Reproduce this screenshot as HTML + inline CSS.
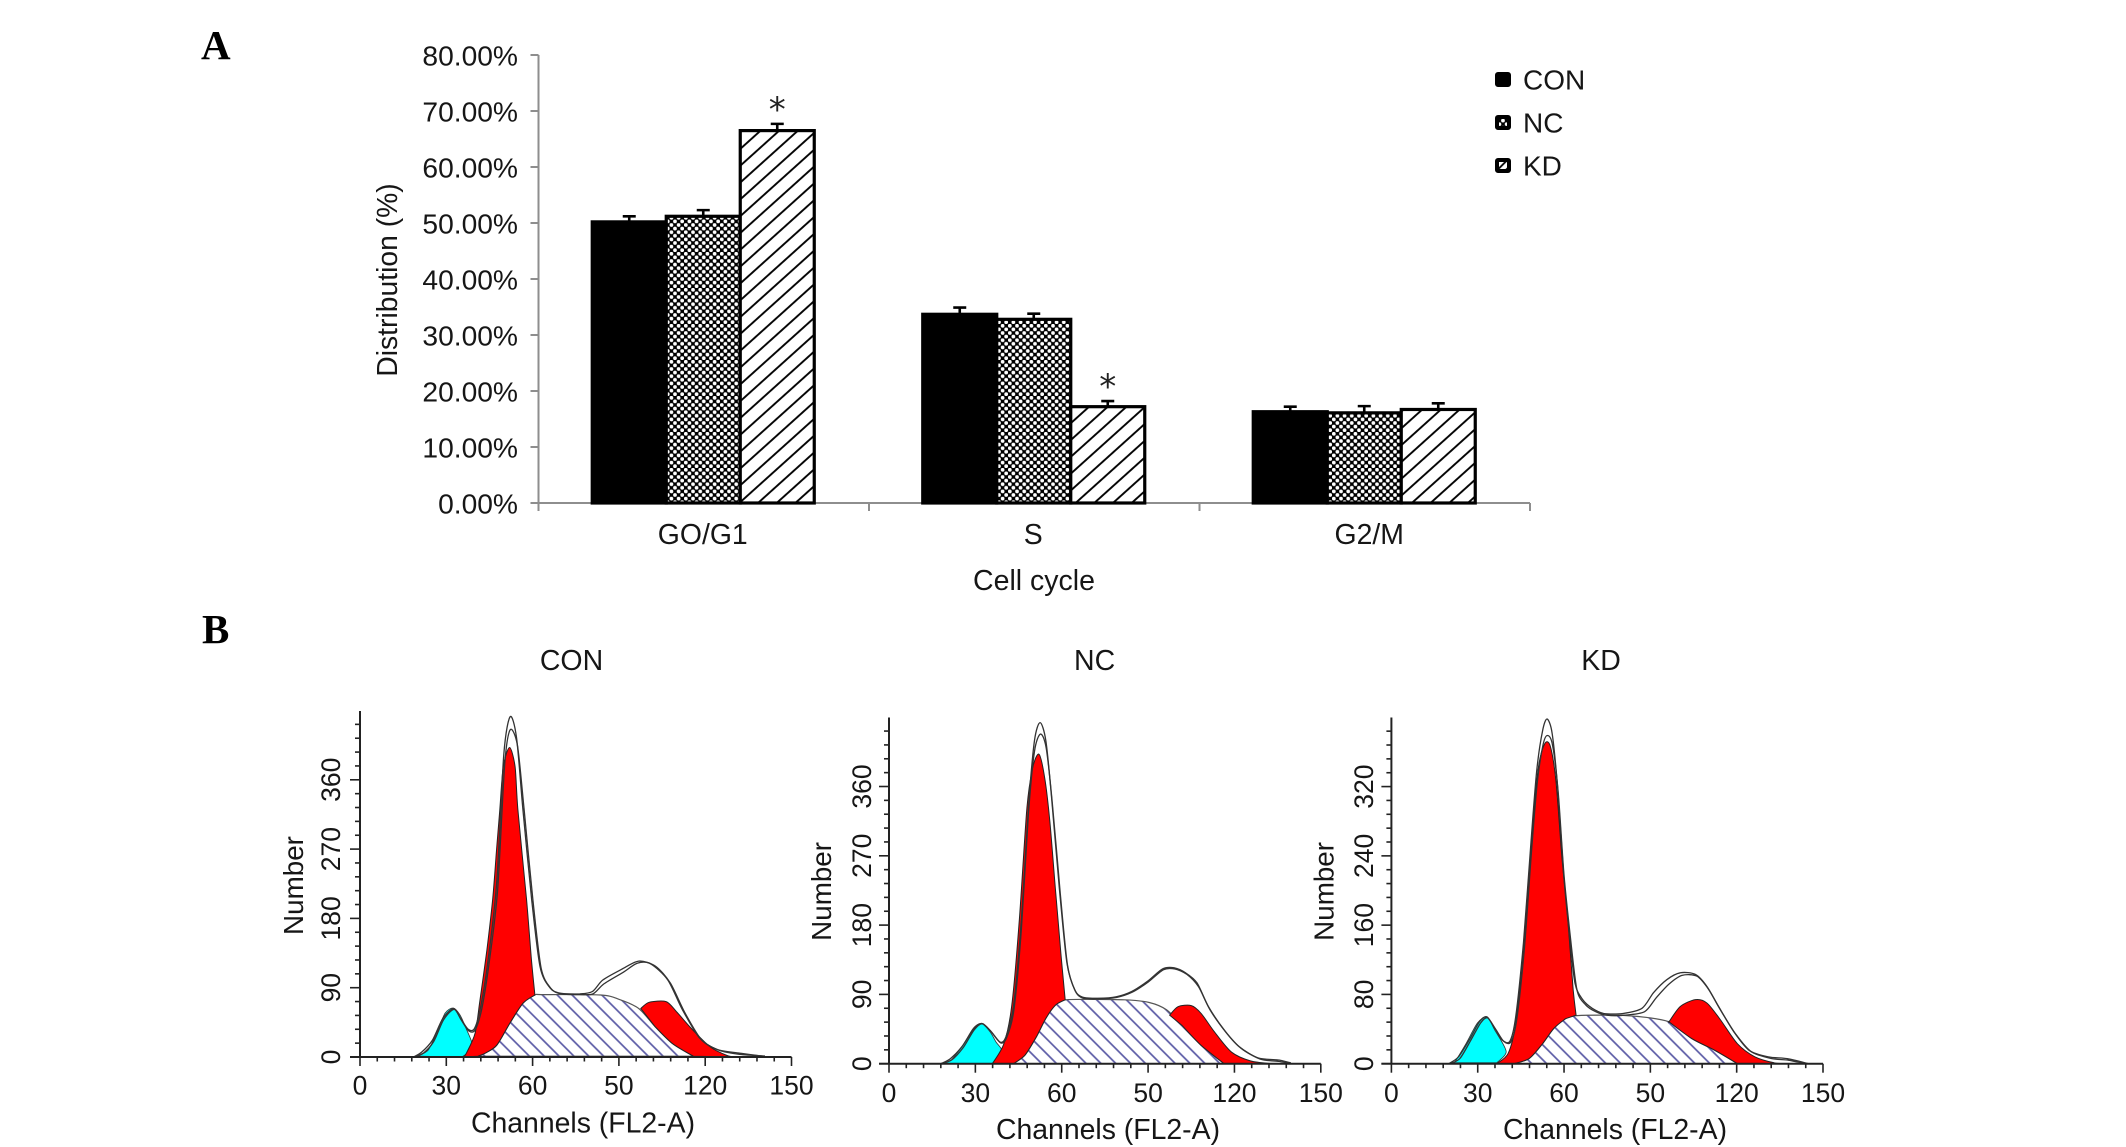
<!DOCTYPE html>
<html lang="en">
<head>
<meta charset="utf-8">
<title>Cell cycle distribution</title>
<style>
html,body{margin:0;padding:0;background:#fff;}
svg{display:block;}
text{font-family:"Liberation Sans",Arial,sans-serif;fill:#161616;}
.panel-letter{font-family:"Liberation Serif","Times New Roman",serif;font-weight:bold;font-size:41px;fill:#000;}
</style>
</head>
<body>
<svg id="root" xmlns="http://www.w3.org/2000/svg" width="2126" height="1147" viewBox="0 0 2126 1147">
  <defs>
    <pattern id="cross" patternUnits="userSpaceOnUse" width="7.2" height="7.2">
      <rect width="7.2" height="7.2" fill="#000"/>
      <circle cx="1.8" cy="1.8" r="1.9" fill="#fff"/>
      <circle cx="5.4" cy="5.4" r="1.9" fill="#fff"/>
    </pattern>
    <pattern id="slash" patternUnits="userSpaceOnUse" width="12.5" height="12.5" patternTransform="rotate(-42)">
      <rect width="12.5" height="12.5" fill="#fff"/>
      <line x1="0" y1="6" x2="12.5" y2="6" stroke="#000" stroke-width="1.9"/>
    </pattern>
    <pattern id="slash-small" patternUnits="userSpaceOnUse" width="6" height="6" patternTransform="rotate(-45)">
      <rect width="6" height="6" fill="#fff"/>
      <line x1="0" y1="3" x2="6" y2="3" stroke="#000" stroke-width="1.8"/>
    </pattern>
    <pattern id="s-hatch" patternUnits="userSpaceOnUse" width="10.5" height="10.5" patternTransform="rotate(45)">
      <rect width="10.5" height="10.5" fill="#fff"/>
      <line x1="0" y1="5" x2="10.5" y2="5" stroke="#5a5aa5" stroke-width="1.7"/>
    </pattern>
  </defs>
  <text class="panel-letter" x="201" y="59">A</text>
  <text class="panel-letter" x="202" y="643">B</text>
  <g id="bar-chart"></g>
  <g id="hist-con"></g>
  <g id="hist-nc"></g>
  <g id="hist-kd"></g>
</svg>
<script>
/* ---------- Panel A data ---------- */
const barCategories = ["GO/G1", "S", "G2/M"];
const barGroups = ["CON", "NC", "KD"];
const conValues = [50.2, 33.7, 16.3];
const ncValues = [51.2, 32.8, 16.1];
const kdValues = [66.5, 17.2, 16.7];
const conErrors = [1.0, 1.2, 0.9];
const ncErrors = [1.1, 1.0, 1.2];
const kdErrors = [1.2, 1.0, 1.1];
const starFlags = [[false, false, true], [false, false, true], [false, false, false]];
const barTicks = [0, 10, 20, 30, 40, 50, 60, 70, 80];

/* ---------- Panel B data: [channel, count] ---------- */
const histXTicks = [0, 30, 60, 90, 120, 150];
const histXTickLabels = ["0", "30", "60", "50", "120", "150"];
const conYTicks = [0, 90, 180, 270, 360];
const ncYTicks = [0, 90, 180, 270, 360];
const kdYTicks = [0, 80, 160, 240, 320];

const conCyan = [[20,1],[23.7,9],[26.6,31],[29.6,57],[32.4,63.6],[34.7,55],[36.9,37],[39.1,15],[36.9,4],[35.4,0]];
const conG1 = [[36,0],[37,5],[40,31],[41.7,74],[44.1,139],[46.1,204],[47.5,270],[48.6,321],[49.8,377],[52,402],[53.9,377],[54.9,321],[57.9,204],[59.5,130],[60.8,80.5]];
const conS = [[41,1],[44,6],[47.6,15.6],[52.1,44],[56.7,70],[60.8,80.5],[63.6,81],[83.7,80.5],[90,75],[96.9,63],[102.7,39],[108.6,17.5],[115.9,1]];
const conG2 = [[97.6,63],[100.5,71],[106.4,72],[110,59],[115.2,37],[121.8,13],[127.6,2],[130.5,0]];
const conLineA = [[18.6,0],[21.5,6.5],[25.2,22],[28.8,50],[32.5,63],[35,50],[37.6,36],[39.8,37],[42,66],[44.5,125],[47.5,225],[50,393],[52.2,442],[54.4,415],[56.6,323],[59.7,204],[62.6,117],[66,90],[69.5,83],[76.4,82],[80.8,85],[84.4,100],[91,114],[96.9,124.5],[102.7,118],[107.9,96],[113,57],[118.8,22],[124.7,9],[132,3.5],[140.8,1.3]];
const conLineB = [[18.6,0],[22,5],[25.6,20],[29,48],[32.7,62],[35.2,48],[37.8,34],[40,35],[42.3,62],[44.8,120],[47.8,215],[50.3,380],[52.2,425],[54.7,405],[57,323],[60.1,204],[63,115],[66.4,89],[69.8,82],[76.4,81],[81,82],[84.8,95],[91.5,110],[96.5,122],[101,121],[107,100],[112,62],[118,25],[124,10],[132,5],[140,1]];

const ncCyan = [[18,0],[21.3,4],[25.3,22],[29.3,46],[32.2,52],[35.2,41],[37.2,28],[39.2,17],[37.2,4],[35.9,0]];
const ncG1 = [[35.9,0],[39.9,26],[42.6,74],[45.2,183],[47.9,332],[49.9,384],[52.1,402],[54.1,371],[55.9,314],[57.8,227],[59.8,140],[61.2,83]];
const ncS = [[43.2,0],[47.2,11],[51.2,35],[54.5,59],[57.8,76],[61.2,83],[81.8,83],[90.4,79.5],[96.4,70],[101.7,50],[108.4,24],[116.4,0]];
const ncG2 = [[97.5,63],[100.4,74],[105,75.5],[108.4,65.5],[113,41.5],[119,15],[125.7,3.5],[133,0]];
const ncLineA = [[18,0],[21.3,6.5],[25.3,22],[29.3,44.5],[32.2,52.4],[35.2,43],[38.6,28],[40.6,35],[43.2,74],[45.9,183],[48.5,336],[50.5,419],[52.5,443],[54.5,419],[56.5,345],[59.2,227],[61.8,131],[64.5,96],[67.2,86.5],[72.5,85],[79,87],[84.4,94],[89.8,107],[95,123],[99,124.5],[103,118],[107,105],[111,74],[116.4,44],[121.7,22],[128.3,7.4],[135,5],[139.6,1]];
const ncLineB = [[18,0],[21.8,5],[25.8,21],[29.6,44],[32.4,52],[35.4,42],[38.8,27],[40.9,34],[43.4,70],[46,175],[48.4,322],[50.5,405],[52.6,428],[54.6,410],[56.7,340],[59.4,225],[62,128],[64.8,94],[67.5,85],[72.5,84],[79,86],[84.6,93],[90,106],[95.3,122],[99.3,123],[103.5,116],[107.5,100],[111.5,70],[117,41],[122.3,20],[129,6],[135.5,3],[139,0.5]];

const kdCyan = [[21.9,1],[25.9,23],[29.9,47],[33.2,54],[35.9,39],[39.9,14],[36.6,1]];
const kdG1 = [[36.6,0],[40.6,12],[43.2,47],[45.9,136],[48.5,252],[50.9,338],[53.2,369],[55.2,367],[57.2,326],[59.2,241],[61.2,171],[63.2,85],[64.2,56]];
const kdS = [[42.6,0],[47.9,6],[52.5,23],[56.5,41],[60.5,52],[64.5,55.5],[81.8,55.5],[96.4,48.5],[104.4,29],[112.4,15.5],[120.3,0]];
const kdG2 = [[96.4,48],[100.4,66],[105.7,74],[109.7,70],[114.4,50.5],[120.3,23],[126.3,8],[133,1],[136.3,0]];
const kdLineA = [[19.9,0],[23.3,7.8],[27.3,29],[30.6,48.5],[33.2,54],[35.9,41],[38.6,27],[41.2,26],[43.2,54],[45.9,140],[48.5,256],[50.5,338],[52.5,384],[54.1,398],[55.9,381],[57.8,318],[59.8,221],[61.8,151],[63.8,93],[66.5,74],[69.8,64],[73.8,58],[80.5,58],[87.1,64],[91.1,82],[95.7,97],[100.4,105],[105.7,103],[109.7,89],[113.7,66],[119,37],[124.3,15.5],[131,7.8],[137.6,5.8],[145,0]];
const kdLineB = [[20.3,0],[23.8,6],[27.6,27],[31,47],[33.4,53],[36.2,40],[39,26],[41.5,25],[43.5,50],[46.2,132],[48.7,245],[50.7,325],[52.7,368],[54.2,379],[56,368],[58,312],[60,218],[62.2,146],[64.5,85],[67.5,68],[71,60],[75,56],[81,56],[88,60],[92,76],[96.5,92],[101,102],[106.2,101],[110.2,86],[114.2,63],[119.5,35],[125,14],[132,6],[138,4],[144,0]];

/* ---------- helpers ---------- */
const NS = "http://www.w3.org/2000/svg";
function mk(parent, tag, attrs, txt) {
  const el = document.createElementNS(NS, tag);
  for (const k in attrs) el.setAttribute(k, attrs[k]);
  if (txt !== undefined) el.textContent = txt;
  parent.appendChild(el);
  return el;
}
function smooth(pts, start) {
  let d = (start ? "M" : "L") + pts[0][0].toFixed(1) + " " + pts[0][1].toFixed(1);
  for (let i = 0; i < pts.length - 1; i++) {
    const p0 = pts[Math.max(i - 1, 0)], p1 = pts[i], p2 = pts[i + 1], p3 = pts[Math.min(i + 2, pts.length - 1)];
    const k = 0.14;
    d += "C" + (p1[0] + (p2[0] - p0[0]) * k).toFixed(1) + " " + (p1[1] + (p2[1] - p0[1]) * k).toFixed(1) + " " +
         (p2[0] - (p3[0] - p1[0]) * k).toFixed(1) + " " + (p2[1] - (p3[1] - p1[1]) * k).toFixed(1) + " " +
         p2[0].toFixed(1) + " " + p2[1].toFixed(1);
  }
  return d;
}

/* ---------- Panel A ---------- */
(function () {
  const g = document.getElementById("bar-chart");
  const x0 = 538.5, bandW = 330.5, y0 = 503, pxPerPct = 5.6, barW = 74, groupShift = -0.5;
  const yS = v => y0 - v * pxPerPct;
  const bandC = i => x0 + bandW * (i + 0.5);
  const seriesValues = [conValues, ncValues, kdValues];
  const seriesErrors = [conErrors, ncErrors, kdErrors];
  const fills = ["#000", "url(#cross)", "url(#slash)"];
  const labelShift = [-1, -1, 4.5];

  const yAxis = mk(g, "line", {x1: x0, y1: yS(80), x2: x0, y2: y0 + 1, stroke: "#8e8e8e", "stroke-width": 2});
  
  
  const xAxis = mk(g, "line", {x1: x0 - 8, y1: y0, x2: x0 + bandW * barCategories.length, y2: y0, stroke: "#8e8e8e", "stroke-width": 2});
  
  

  barTicks.forEach(t => {
    const tick = mk(g, "line", {x1: x0 - 8, y1: yS(t), x2: x0, y2: yS(t), stroke: "#8e8e8e", "stroke-width": 2});
    
    
    const lab = mk(g, "text", {x: 518, y: yS(t) + 10.5, "text-anchor": "end", "font-size": 28.2}, t.toFixed(2) + "%");
    
    
  });
  for (let i = 0; i <= barCategories.length; i++) {
    const tick = mk(g, "line", {x1: x0 + bandW * i, y1: y0, x2: x0 + bandW * i, y2: y0 + 8, stroke: "#8e8e8e", "stroke-width": 2});
    
    
  }

  barCategories.forEach((cat, i) => {
    const lab = mk(g, "text", {x: bandC(i) + labelShift[i], y: 544, "text-anchor": "middle", "font-size": 28.4}, cat);
    
    
    barGroups.forEach((name, j) => {
      const v = seriesValues[j][i], e = seriesErrors[j][i];
      const bx = bandC(i) + groupShift + (j - 1.5) * barW;
      const cx = bx + barW / 2;
      const err = mk(g, "path", {d: "M" + cx + " " + yS(v) + "V" + yS(v + e) + "M" + (cx - 6.5) + " " + yS(v + e) + "h13", stroke: "#000", "stroke-width": 2.6, fill: "none"});
      
      
      const bar = mk(g, "rect", {x: bx, y: yS(v), width: barW, height: y0 - yS(v), fill: fills[j], stroke: "#000", "stroke-width": 3.2});
      
      
      if (starFlags[i][j]) {
        const star = mk(g, "text", {x: cx, y: yS(v + e) - 3, "text-anchor": "middle", "font-size": 34, style: 'font-family:"DejaVu Sans",sans-serif;fill:#222'}, "*");
        
        
      }
    });
  });

  const yTitle = mk(g, "text", {transform: "translate(397 280) rotate(-90)", "text-anchor": "middle", "font-size": 28.3}, "Distribution (%)");
  
  
  const xTitle = mk(g, "text", {x: 1034, y: 590, "text-anchor": "middle", "font-size": 28.5}, "Cell cycle");
  
  

  const legendFills = ["#000", "url(#cross)", "url(#slash-small)"];
  barGroups.forEach((name, j) => {
    const ly = 80 + j * 43;
    const sw = mk(g, "rect", {x: 1497, y: ly - 6, width: 12, height: 11, rx: 1, fill: legendFills[j], stroke: "#000", "stroke-width": 4});
    
    
    const lab = mk(g, "text", {x: 1523, y: ly + 9.5, "font-size": 28}, name);
    
    
  });
})();

/* ---------- Panel B ---------- */
function drawHist(cfg) {
  const g = document.getElementById(cfg.id);
  const xS = c => cfg.x0 + (c / 150) * (cfg.x150 - cfg.x0);
  const yS = n => cfg.y0 - n * cfg.pxPerCount;
  const P = arr => arr.map(p => [xS(p[0]), yS(p[1])]);
  const axisC = "#222";

  const title = mk(g, "text", {x: cfg.titleX, y: 670, "text-anchor": "middle", "font-size": 28.5}, cfg.title);
  
  

  const s = mk(g, "path", {d: smooth(P(cfg.s), true) + "Z", fill: "url(#s-hatch)", stroke: "#555", "stroke-width": 1.2});
  
  

  const cy = mk(g, "path", {d: smooth(P(cfg.cyan), true) + "Z", fill: "#00ffff", stroke: "#333", "stroke-width": 0.8});
  
  

  const between = (upper, lower) => {
    const a = upper[0][0], b = upper[upper.length - 1][0];
    const low = lower.filter(p => p[0] >= a && p[0] <= b).reverse();
    return smooth(P(upper), true) + (low.length ? smooth(P(low), false) : "") + "Z";
  };
  const g1 = mk(g, "path", {d: between(cfg.g1, cfg.s), fill: "#ff0000", stroke: "#222", "stroke-width": 1});
  
  
  const g2 = mk(g, "path", {d: between(cfg.g2, cfg.s), fill: "#ff0000", stroke: "#222", "stroke-width": 1});
  
  

  const la = mk(g, "path", {d: smooth(P(cfg.lineA), true), fill: "none", stroke: "#333", "stroke-width": 1.3});
  
  
  const lb = mk(g, "path", {d: smooth(P(cfg.lineB), true), fill: "none", stroke: "#333", "stroke-width": 1.3});
  
  

  const yAxis = mk(g, "line", {x1: cfg.x0, y1: cfg.top, x2: cfg.x0, y2: cfg.y0, stroke: axisC, "stroke-width": 2});
  
  
  const xAxis = mk(g, "line", {x1: cfg.x0 - 10, y1: cfg.y0, x2: cfg.x150, y2: cfg.y0, stroke: axisC, "stroke-width": 2});
  
  

  const yStep = cfg.yTicks[1] - cfg.yTicks[0];
  for (let i = 0; yS(i * yStep / 5) >= cfg.top; i++) {
    const major = i % 5 === 0;
    const t = mk(g, "line", {x1: cfg.x0 - (major ? 10 : 5), y1: yS(i * yStep / 5), x2: cfg.x0, y2: yS(i * yStep / 5), stroke: axisC, "stroke-width": 1.6});
    
    
  }
  cfg.yTicks.forEach(v => {
    const yy = yS(v);
    const lab = mk(g, "text", {transform: "translate(" + (cfg.yLabelX + 9.5) + " " + yy + ") rotate(-90)", "text-anchor": "middle", "font-size": 26.5}, String(v));
    
    
  });
  const xStep = histXTicks[1] - histXTicks[0];
  for (let i = 0; i <= 25; i++) {
    const c = i * xStep / 5, major = i % 5 === 0;
    const t = mk(g, "line", {x1: xS(c), y1: cfg.y0, x2: xS(c), y2: cfg.y0 + (major ? 9 : 4.5), stroke: axisC, "stroke-width": 1.6});
    
    
  }
  histXTicks.forEach((c, i) => {
    const lab = mk(g, "text", {x: xS(c), y: cfg.xLabelY, "text-anchor": "middle", "font-size": 26.5}, histXTickLabels[i]);
    
    
  });

  const yt = mk(g, "text", {transform: "translate(" + (cfg.numX + 10) + " " + cfg.numY + ") rotate(-90)", "text-anchor": "middle", "font-size": 27.8}, "Number");
  
  
  const xt = mk(g, "text", {x: cfg.chanX, y: cfg.chanY, "text-anchor": "middle", "font-size": 28.4}, "Channels (FL2-A)");
  
  
}

drawHist({id: "hist-con", title: "CON", titleX: 571.5, x0: 360, x150: 791.5, y0: 1057, top: 711, pxPerCount: 0.77,
  yTicks: conYTicks, yLabelX: 330.7, numX: 293, numY: 885.5, xLabelY: 1094.6, chanX: 583, chanY: 1132.6,
  cyan: conCyan, g1: conG1, s: conS, g2: conG2, lineA: conLineA, lineB: conLineB});
drawHist({id: "hist-nc", title: "NC", titleX: 1094.6, x0: 889, x150: 1320.8, y0: 1063.7, top: 717.5, pxPerCount: 0.77,
  yTicks: ncYTicks, yLabelX: 861.5, numX: 821, numY: 891.4, xLabelY: 1102, chanX: 1108, chanY: 1139,
  cyan: ncCyan, g1: ncG1, s: ncS, g2: ncG2, lineA: ncLineA, lineB: ncLineB});
drawHist({id: "hist-kd", title: "KD", titleX: 1601, x0: 1391.4, x150: 1823, y0: 1063.7, top: 717.5, pxPerCount: 0.866,
  yTicks: kdYTicks, yLabelX: 1363.5, numX: 1323.7, numY: 891.4, xLabelY: 1102, chanX: 1615, chanY: 1139,
  cyan: kdCyan, g1: kdG1, s: kdS, g2: kdG2, lineA: kdLineA, lineB: kdLineB});
</script>
</body>
</html>
